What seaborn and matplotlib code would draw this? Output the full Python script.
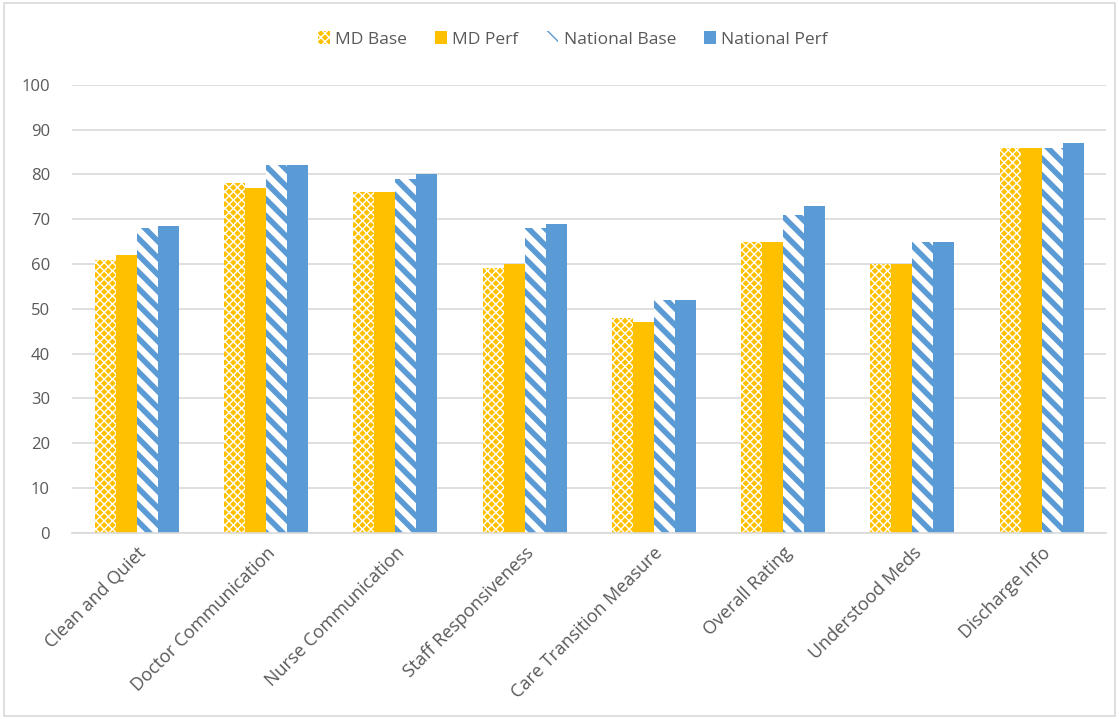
import matplotlib
matplotlib.use("Agg")
import matplotlib.pyplot as plt
import seaborn as sns
import pandas as pd
from matplotlib.patches import Patch, Rectangle

categories = ["Clean and Quiet", "Doctor Communication", "Nurse Communication",
              "Staff Responsiveness", "Care Transition Measure", "Overall Rating",
              "Understood Meds", "Discharge Info"]
series_names = ["MD Base", "MD Perf", "National Base", "National Perf"]
md_base = [61, 78, 76, 59, 48, 65, 60, 86]
md_perf = [62, 77, 76, 60, 47, 65, 60, 86]
national_base = [68, 82, 79, 68, 52, 71, 65, 86]
national_perf = [68.5, 82, 80, 69, 52, 73, 65, 87]
y_ticks = [0, 10, 20, 30, 40, 50, 60, 70, 80, 90, 100]

rows = []
for name, vals in zip(series_names, [md_base, md_perf, national_base, national_perf]):
    for cat, v in zip(categories, vals):
        rows.append({"Measure": cat, "Series": name, "Score": v})
df = pd.DataFrame(rows)

YELLOW = "#FFC000"
BLUE = "#5B9BD5"
TEXT = "#595959"
GRID = "#D9D9D9"

sns.set_theme(style="white")
plt.rcParams["font.family"] = ["Open Sans", "DejaVu Sans"]

fig = plt.figure(figsize=(11.19, 7.19), dpi=100)
ax = fig.add_axes([0.0645, 0.259, 0.924, 0.623])

sns.barplot(data=df, x="Measure", y="Score", hue="Series", order=categories,
            hue_order=series_names, width=0.65, gap=0, ax=ax, legend=False,
            palette=[YELLOW, YELLOW, BLUE, BLUE], saturation=1)

styles = [
    dict(face=YELLOW, hatch_col="white", hatch="xxxx", hlw=1.0),
    dict(face=YELLOW, hatch_col=None, hatch=None, hlw=1.0),
    dict(face="white", hatch_col=BLUE, hatch="\\\\", hlw=4.0),
    dict(face=BLUE, hatch_col=None, hatch=None, hlw=1.0),
]
for cont, st in zip(ax.containers, styles):
    for bar in cont:
        bar.set_facecolor(st["face"])
        bar.set_linewidth(0)
        if st["hatch"]:
            bar.set_edgecolor(st["hatch_col"])
            bar.set_hatch(st["hatch"])
            try:
                bar.set_hatch_linewidth(st["hlw"])
            except AttributeError:
                pass

ax.set_ylim(0, 100)
ax.set_xlim(-0.5, len(categories) - 0.5)
ax.set_yticks(y_ticks)
ax.set_yticklabels([str(t) for t in y_ticks], color=TEXT, fontsize=12)
ax.yaxis.grid(True, color=GRID, linewidth=1.2)
ax.set_axisbelow(True)
ax.set_xlabel("")
ax.set_ylabel("")
for s in ["top", "right", "left"]:
    ax.spines[s].set_visible(False)
ax.spines["bottom"].set_color(GRID)
ax.spines["bottom"].set_linewidth(1.2)
ax.tick_params(axis="y", length=0, pad=16)
ax.tick_params(axis="x", length=0, pad=8)
ax.set_xticks(range(len(categories)))
ax.set_xticklabels(categories, rotation=45, ha="right", rotation_mode="anchor",
                   color=TEXT, fontsize=13)

handles = [
    Patch(facecolor=YELLOW, edgecolor="white", hatch="xxxx", linewidth=0),
    Patch(facecolor=YELLOW, linewidth=0),
    Patch(facecolor="white", edgecolor=BLUE, hatch="\\\\", linewidth=0),
    Patch(facecolor=BLUE, linewidth=0),
]
leg = fig.legend(handles, series_names, loc="center", bbox_to_anchor=(0.512, 0.945),
                 ncol=4, frameon=False, fontsize=12.5, handlelength=0.7,
                 handleheight=0.7, handletextpad=0.3, columnspacing=1.6)
for t in leg.get_texts():
    t.set_color(TEXT)

fig.patches.append(Rectangle((0.004, 0.004), 0.992, 0.992, transform=fig.transFigure,
                             fill=False, edgecolor=GRID, linewidth=1.2))

fig.savefig("out.png", dpi=100, facecolor="white")
